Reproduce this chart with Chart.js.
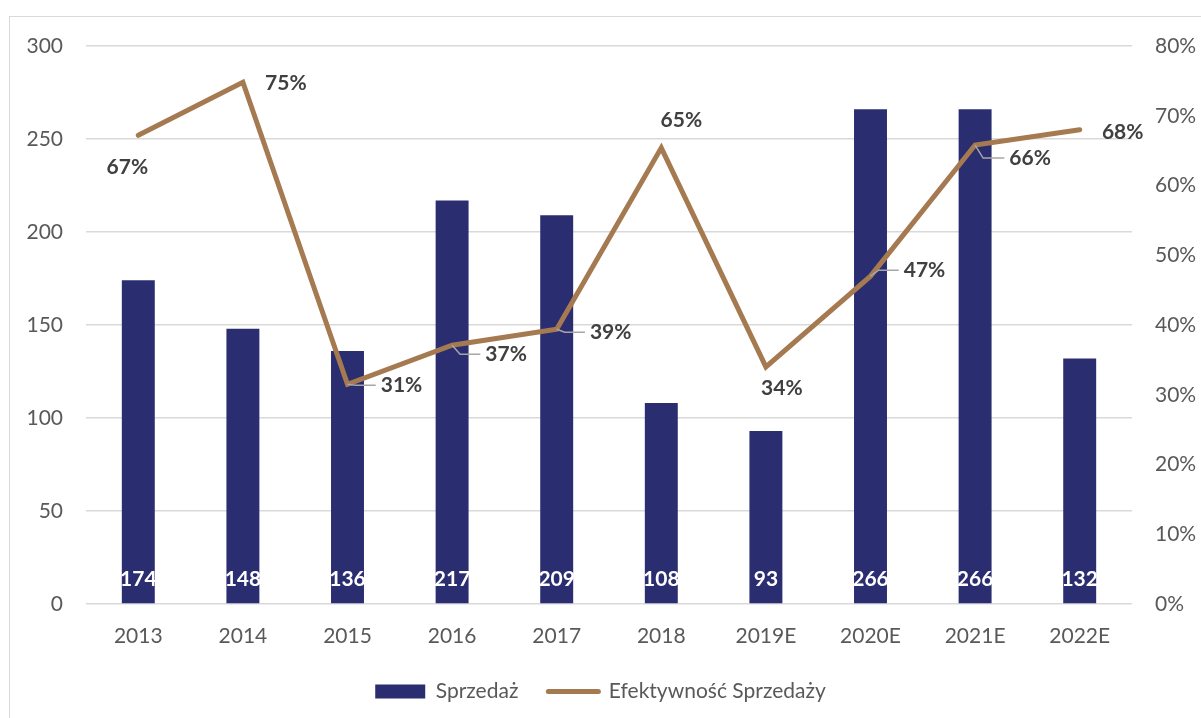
<!DOCTYPE html>
<html>
<head>
<meta charset="utf-8">
<script src="https://cdn.jsdelivr.net/npm/chart.js@4/dist/chart.umd.min.js"></script>
<style>
  html, body { margin: 0; padding: 0; background: #fff; }
  #wrap { width: 1201px; height: 718px; }
</style>
</head>
<body>
<div id="wrap"><canvas id="chart" width="1201" height="718"></canvas></div>
<script>
// Data
const years = ["2013", "2014", "2015", "2016", "2017", "2018", "2019E", "2020E", "2021E", "2022E"];
const sales = [174, 148, 136, 217, 209, 108, 93, 266, 266, 132];
const efficiency = [67.2, 74.8, 31.5, 37.1, 39.4, 65.4, 34, 47, 65.8, 68];
const efficiencyText = ["67%", "75%", "31%", "37%", "39%", "65%", "34%", "47%", "66%", "68%"];

// Styles
const FONT = "Lato";
const BAR_COLOR = "#2B2D71";
const LINE_COLOR = "#A57A50";
const GRID_COLOR = "#D9D9D9";
const TICK_COLOR = "#595959";

// Where each percentage label sits relative to its point (dx, dy, leader line)
const labelPlacement = [
  { dx: -11, dy: 32, leader: false },
  { dx: 43, dy: 1, leader: false },
  { dx: 54, dy: 1, leader: true },
  { dx: 54, dy: 9, leader: true },
  { dx: 54, dy: 3, leader: true },
  { dx: 20, dy: -28, leader: false },
  { dx: 16, dy: 21, leader: false },
  { dx: 54, dy: -6, leader: true },
  { dx: 55, dy: 13, leader: true },
  { dx: 43, dy: 3, leader: false },
];

// Light frame round the chart
const framePlugin = {
  id: "frame",
  beforeDraw(chart) {
    const ctx = chart.ctx;
    ctx.save();
    ctx.fillStyle = "#fff";
    ctx.fillRect(0, 0, chart.width, chart.height);
    ctx.strokeStyle = GRID_COLOR;
    ctx.lineWidth = 1;
    ctx.strokeRect(9.5, 16.5, 1400, 900);
    ctx.restore();
  },
};

// Value labels for bars and line
const labelPlugin = {
  id: "valueLabels",
  afterDatasetsDraw(chart) {
    const ctx = chart.ctx;
    const base = chart.scales.y.getPixelForValue(0);
    ctx.save();
    ctx.textAlign = "center";
    ctx.textBaseline = "middle";

    // bar labels, white, at bar foot
    ctx.font = "bold 21px " + FONT;
    ctx.fillStyle = "#fff";
    chart.getDatasetMeta(0).data.forEach((bar, i) => {
      ctx.fillText(sales[i], bar.x, base - 25);
    });

    // line labels
    chart.getDatasetMeta(1).data.forEach((pt, i) => {
      const p = labelPlacement[i];
      const tx = pt.x + p.dx;
      const ty = pt.y + p.dy;
      const w = ctx.measureText(efficiencyText[i]).width;
      if (p.leader) {
        ctx.strokeStyle = "#A6A6A6";
        ctx.lineWidth = 1.5;
        ctx.beginPath();
        ctx.moveTo(pt.x, pt.y);
        ctx.lineTo(pt.x + 8, ty);
        ctx.lineTo(tx - w / 2 - 5, ty);
        ctx.stroke();
      }
      ctx.fillStyle = "#404040";
      ctx.fillText(efficiencyText[i], tx, ty);
    });
    ctx.restore();
  },
};

const chart = new Chart(document.getElementById("chart"), {
  data: {
    labels: years,
    datasets: [
      {
        type: "bar",
        label: "Sprzedaż",
        data: sales,
        backgroundColor: BAR_COLOR,
        categoryPercentage: 0.63,
        barPercentage: 0.5,
        yAxisID: "y",
        order: 2,
      },
      {
        type: "line",
        label: "Efektywność Sprzedaży",
        data: efficiency,
        borderColor: LINE_COLOR,
        backgroundColor: LINE_COLOR,
        borderWidth: 5,
        borderCapStyle: "round",
        pointRadius: 0,
        tension: 0,
        yAxisID: "y1",
        order: 1,
      },
    ],
  },
  plugins: [framePlugin, labelPlugin],
  options: {
    responsive: false,
    animation: false,
    layout: { padding: { top: 46, left: 0, right: 0, bottom: 6 } },
    plugins: {
      tooltip: { enabled: false },
      legend: {
        position: "bottom",
        labels: {
          usePointStyle: true,
          pointStyleWidth: 50,
          boxWidth: 50,
          boxHeight: 14,
          padding: 30,
          color: TICK_COLOR,
          font: { family: FONT, size: 21 },
          generateLabels: () => [
            { text: "Sprzedaż", pointStyle: "rect", fillStyle: BAR_COLOR, strokeStyle: BAR_COLOR, lineWidth: 0, datasetIndex: 0, fontColor: TICK_COLOR },
            { text: "Efektywność Sprzedaży", pointStyle: "line", fillStyle: LINE_COLOR, strokeStyle: LINE_COLOR, lineWidth: 5, lineCap: "round", datasetIndex: 1, fontColor: TICK_COLOR },
          ],
        },
      },
    },
    scales: {
      x: {
        grid: { display: false },
        border: { display: false },
        ticks: { color: TICK_COLOR, font: { family: FONT, size: 21 }, padding: 12, maxRotation: 0 },
        afterFit(scale) { scale.height = 47; },
      },
      y: {
        position: "left",
        min: 0,
        max: 300,
        ticks: { stepSize: 50, color: TICK_COLOR, font: { family: FONT, size: 21 }, padding: 23 },
        grid: { color: GRID_COLOR, lineWidth: 1.5, drawTicks: false },
        border: { display: false },
        afterFit(scale) { scale.width = 86; },
      },
      y1: {
        position: "right",
        min: 0,
        max: 80,
        ticks: { stepSize: 10, color: TICK_COLOR, font: { family: FONT, size: 21 }, padding: 23, callback: (v) => v + "%" },
        grid: { drawOnChartArea: false, drawTicks: false },
        border: { display: false },
        afterFit(scale) { scale.width = 69; },
      },
    },
  },
});
</script>
</body>
</html>
